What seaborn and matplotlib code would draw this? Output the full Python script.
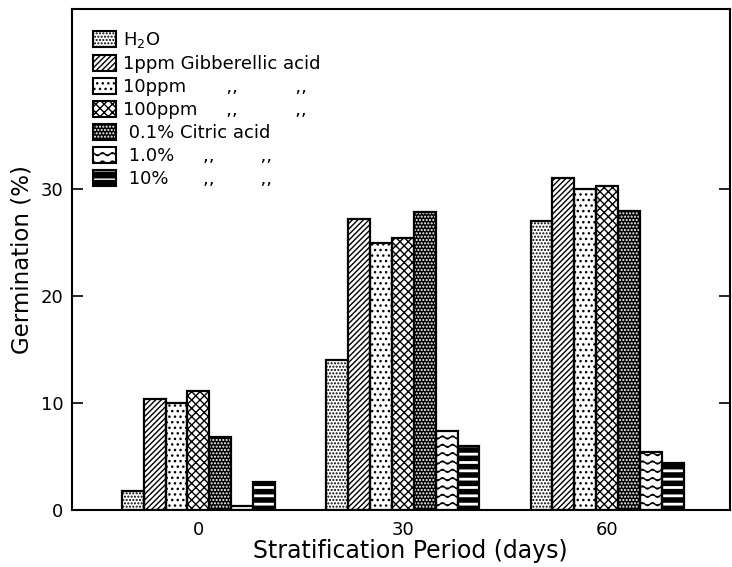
import numpy as np
import pandas as pd
import matplotlib
matplotlib.use("Agg")
import matplotlib.pyplot as plt
import matplotlib.hatch as mhatch
from matplotlib.path import Path
from matplotlib.patches import Patch
import seaborn as sns

# data
periods = ["0", "30", "60"]
treatments = ["H2O", "1ppm GA", "10ppm GA", "100ppm GA",
              "0.1% Citric", "1.0% Citric", "10% Citric"]
legend_labels = ["H$_2$O",
                 "1ppm Gibberellic acid",
                 "10ppm       ,,          ,,",
                 "100ppm     ,,          ,,",
                 " 0.1% Citric acid",
                 " 1.0%     ,,        ,,",
                 " 10%      ,,        ,,"]
h2o = [1.8, 14.0, 27.0]
ga_1 = [10.4, 27.2, 31.0]
ga_10 = [10.0, 24.9, 30.0]
ga_100 = [11.1, 25.4, 30.3]
ca_01 = [6.8, 27.8, 27.9]
ca_1 = [0.4, 7.4, 5.4]
ca_10 = [2.6, 6.0, 4.4]

# styles: (face, hatch colour, hatch)
faces = ["white", "white", "white", "white", "black", "white", "black"]
hcols = ["black", "black", "black", "black", "white", "black", "white"]
hatches = [".....", "//////", "...", "xxxx", ".....", "~~", "--"]
STRIPE_LW = 2.0


# wavy hatch pattern, not built into matplotlib
class WavyHatch(mhatch.HatchPatternBase):
    npts = 81

    def __init__(self, hatch, density):
        self.num_lines = int(hatch.count('~') * density)
        self.num_vertices = self.num_lines * self.npts

    def set_vertices_and_codes(self, vertices, codes):
        steps, stepsize = np.linspace(0.0, 1.0, self.num_lines, False, retstep=True)
        steps += stepsize / 2.
        xs = np.linspace(0.0, 1.0, self.npts)
        wave = 0.015 * np.sin(2 * np.pi * 10 * xs)
        for i, s in enumerate(steps):
            sl = slice(i * self.npts, (i + 1) * self.npts)
            vertices[sl, 0] = xs
            vertices[sl, 1] = s + wave
            codes[sl] = Path.LINETO
            codes[i * self.npts] = Path.MOVETO


mhatch._hatch_types.append(WavyHatch)
mhatch._validate_hatch_pattern = lambda h: None

df = pd.DataFrame({
    "period": periods * len(treatments),
    "treatment": np.repeat(treatments, len(periods)),
    "germ": h2o + ga_1 + ga_10 + ga_100 + ca_01 + ca_1 + ca_10,
})

sns.set_style("ticks")
plt.rcParams["font.family"] = ["DejaVu Sans"]
plt.rcParams["hatch.linewidth"] = 1.0
plt.rcParams["text.color"] = "black"
plt.rcParams["axes.labelcolor"] = "black"
plt.rcParams["xtick.color"] = "black"
plt.rcParams["ytick.color"] = "black"

fig = plt.figure(figsize=(7.32, 5.67), dpi=100)
ax = fig.add_axes([0.098, 0.1005, 0.899, 0.8835])

# fills + hatches
sns.barplot(data=df, x="period", y="germ", hue="treatment", order=periods,
            hue_order=treatments, palette=dict(zip(treatments, faces)),
            width=0.75, gap=0, errorbar=None, saturation=1, legend=False,
            linewidth=0, ax=ax)
for cont, hc, ht in zip(ax.containers, hcols, hatches):
    for p in cont.patches:
        p.set_edgecolor(hc)
        p.set_hatch(ht)
        p.set_linewidth(0)
        if ht == "--" and hasattr(p, "set_hatch_linewidth"):
            p.set_hatch_linewidth(STRIPE_LW)

# black outlines
sns.barplot(data=df, x="period", y="germ", hue="treatment", order=periods,
            hue_order=treatments, palette=["black"] * len(treatments),
            width=0.75, gap=0, errorbar=None, fill=False, legend=False,
            linewidth=1.6, ax=ax)

ax.set_xlim(-0.62, 2.6)
ax.set_ylim(0, 46.8)
ax.set_yticks([0, 10, 20, 30])
ax.tick_params(axis="y", direction="in", length=8, width=1.2, labelsize=13,
               right=True, pad=6)
ax.tick_params(axis="x", length=0, labelsize=13, pad=8)
for s in ax.spines.values():
    s.set_linewidth(1.5)
    s.set_color("black")
ax.set_xlabel("Stratification Period (days)", fontsize=17)
ax.set_ylabel("Germination (%)", fontsize=16.5, va="center")
ax.xaxis.set_label_coords(0.514, -0.058)
ax.yaxis.set_label_coords(-0.075, 0.5)

handles = []
for fc, hc, ht in zip(faces, hcols, hatches):
    fill = Patch(facecolor=fc, edgecolor=hc, hatch=ht, linewidth=0)
    if ht == "--" and hasattr(fill, "set_hatch_linewidth"):
        fill.set_hatch_linewidth(STRIPE_LW)
    edge = Patch(facecolor="none", edgecolor="black", linewidth=1.5)
    handles.append((fill, edge))
ax.legend(handles, legend_labels, loc="upper left",
          bbox_to_anchor=(0.032, 0.958), frameon=False, fontsize=13,
          handlelength=1.3, handleheight=1.0, labelspacing=0.26,
          handletextpad=0.4, borderpad=0, borderaxespad=0)

fig.savefig("out.png", dpi=100)
